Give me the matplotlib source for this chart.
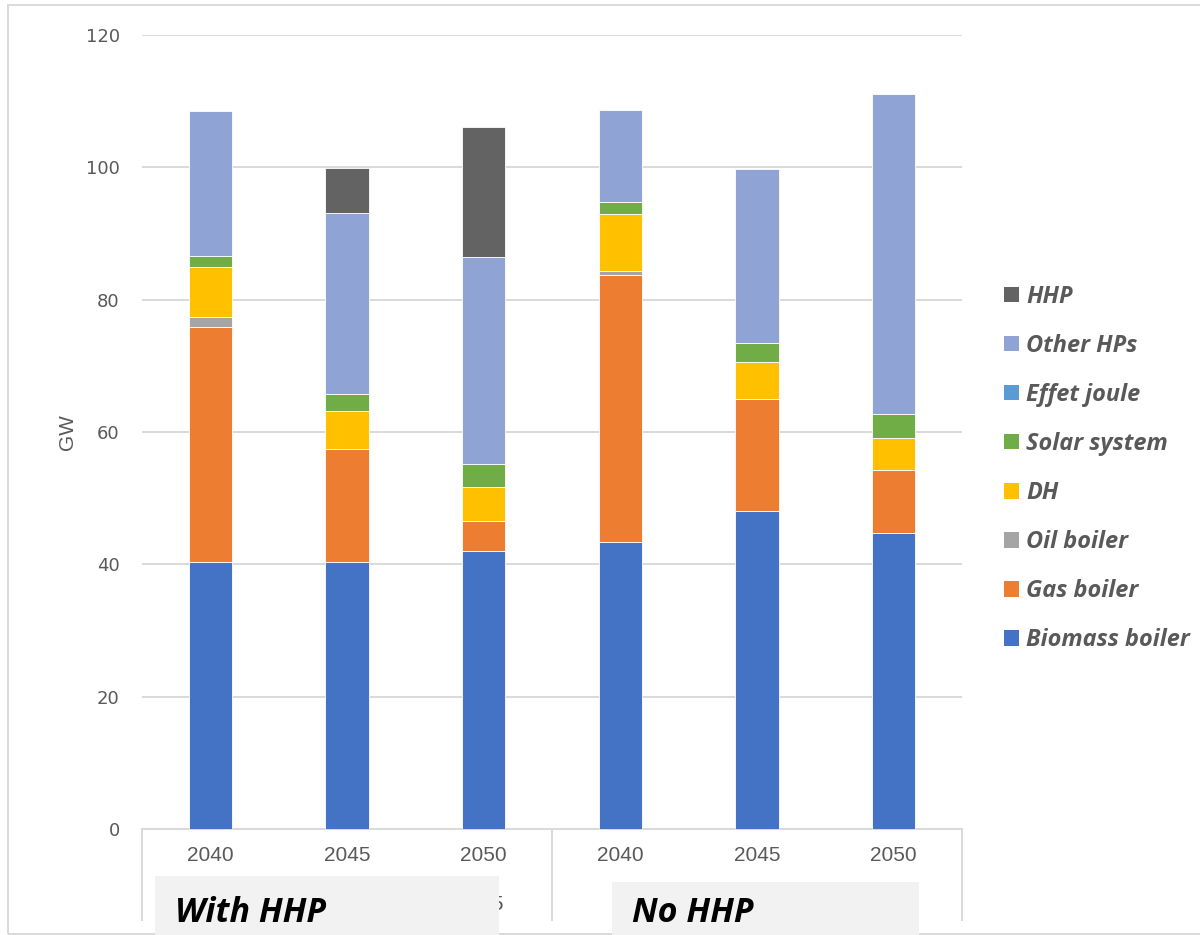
import numpy as np
import matplotlib
matplotlib.use("Agg")
from matplotlib import pyplot as plt
from matplotlib.patches import Rectangle
from matplotlib.lines import Line2D
from matplotlib import font_manager

# installed heating capacity per scenario / year (GW)
years = ['2040', '2045', '2050', '2040', '2045', '2050']
groups = ['With HHP', 'No HHP']

biomass_boiler = [40.4, 40.4, 42.0, 43.4, 48.1, 44.7]
gas_boiler = [35.4, 17.0, 4.6, 40.4, 16.9, 9.6]
oil_boiler = [1.6, 0.0, 0.0, 0.6, 0.0, 0.0]
dh = [7.5, 5.7, 5.1, 8.5, 5.6, 4.8]
solar_system = [1.7, 2.7, 3.5, 1.8, 2.8, 3.6]
effet_joule = [0.0, 0.0, 0.0, 0.0, 0.0, 0.0]
other_hps = [21.9, 27.3, 31.3, 13.9, 26.3, 48.4]
hhp = [0.0, 6.8, 19.6, 0.0, 0.0, 0.0]

series = [
    ('Biomass boiler', biomass_boiler, '#4472C4'),
    ('Gas boiler', gas_boiler, '#ED7D31'),
    ('Oil boiler', oil_boiler, '#A5A5A5'),
    ('DH', dh, '#FFC000'),
    ('Solar system', solar_system, '#70AD47'),
    ('Effet joule', effet_joule, '#5B9BD5'),
    ('Other HPs', other_hps, '#8FA3D5'),
    ('HHP', hhp, '#636363'),
]

W, H = 1200, 935
GREY_TXT = '#595959'
GRID = '#D9D9D9'

names = {f.name for f in font_manager.fontManager.ttflist}
narrow = 'Liberation Sans Narrow' if 'Liberation Sans Narrow' in names else 'Liberation Sans'

def fx(px):
    return px / W

def fy(py):
    return 1 - py / H

fig = plt.figure(figsize=(W / 100, H / 100), dpi=100)
ax = fig.add_axes([fx(142), fy(829), fx(962) - fx(142), fy(35) - fy(829)])

x = np.arange(len(years))
bottom = np.zeros(len(years))
handles = []
for label, vals, color in series:
    vals = np.array(vals)
    keep = vals > 0
    ax.bar(x[keep], vals[keep], bottom=bottom[keep], width=0.315, color=color,
           edgecolor='white', linewidth=0.6, zorder=3)
    bottom += vals
    handles.append(Rectangle((0, 0), 1, 1, facecolor=color, edgecolor='none', label=label))

ax.set_xlim(-0.5, len(years) - 0.5)
ax.set_ylim(0, 120)
ax.set_yticks(np.arange(0, 121, 20))
ax.grid(axis='y', color=GRID, linewidth=1.4, zorder=0)
for s in ['top', 'right', 'left']:
    ax.spines[s].set_visible(False)
ax.spines['bottom'].set_color(GRID)
ax.spines['bottom'].set_linewidth(1.4)
ax.tick_params(axis='y', length=0, pad=16, labelsize=13, labelcolor=GREY_TXT)
ax.tick_params(axis='x', length=0, pad=12, labelsize=15, labelcolor=GREY_TXT)
for t in ax.get_yticklabels():
    t.set_family('DejaVu Sans')
ax.set_xticks(x)
ax.set_xticklabels(years, family=narrow)
ax.set_ylabel('GW', family=narrow, fontsize=15, color=GREY_TXT, labelpad=6)

# category box below the axis: outer edges and group separator
for px in (142, 552, 962):
    fig.add_artist(Line2D([fx(px), fx(px)], [fy(829), fy(920)], color=GRID, linewidth=1.4))

# hidden group label partly covered by the boxes
fig.text(fx(503), fy(905), '2045', ha='right', va='center', family=narrow,
         fontsize=15, color=GREY_TXT)

# group label boxes
for (x0, x1, y0), name in zip([(155, 499, 876), (612, 919, 882)], groups):
    fig.add_artist(Rectangle((fx(x0), fy(H)), fx(x1) - fx(x0), fy(y0) - fy(H),
                             facecolor='#F2F2F2', edgecolor='none', zorder=5))
    fig.text(fx(x0 + 20), fy(913), name, ha='left', va='center',
             family='Open Sans', fontweight='bold', fontstyle='italic',
             fontsize=24.5, color='black', zorder=6)

# chart border
fig.add_artist(Rectangle((fx(8), fy(934)), fx(1210) - fx(8), fy(5) - fy(934),
                         facecolor='none', edgecolor=GRID, linewidth=1.4))

leg = ax.legend(handles=handles[::-1], loc='center left',
                bbox_to_anchor=(fx(1004), fy(468.5)), bbox_transform=fig.transFigure,
                frameon=False, borderpad=0, borderaxespad=0,
                handlelength=0.64, handleheight=0.64, handletextpad=0.3,
                labelspacing=1.07,
                prop={'family': 'Open Sans', 'weight': 'bold', 'style': 'italic', 'size': 16.9})
for t in leg.get_texts():
    t.set_color(GREY_TXT)

fig.savefig('out.png', dpi=100)
